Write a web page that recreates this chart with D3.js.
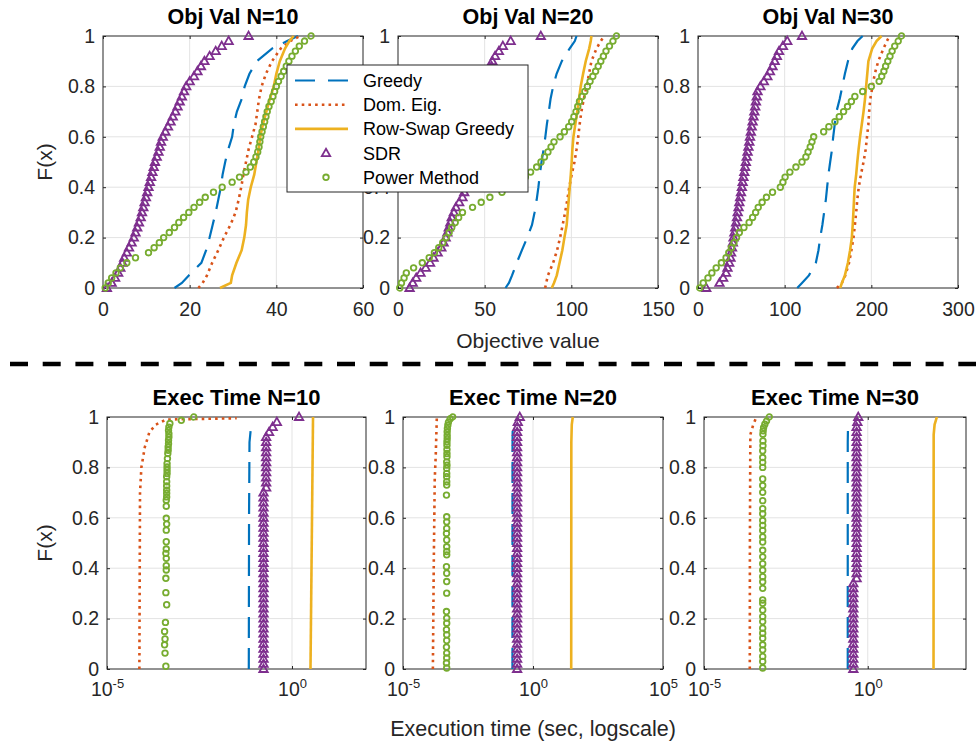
<!DOCTYPE html>
<html>
<head>
<meta charset="utf-8">
<script src="https://cdn.jsdelivr.net/npm/d3@7"></script>
<style>
  body { margin: 0; background: #fff; }
  svg { font-family: "Liberation Sans", Arial, Helvetica, sans-serif; }
</style>
</head>
<body>
<svg id="chart" width="979" height="742"></svg>
<script>

// CDF levels used for the three line methods in the objective-value panels
var lineLevels = [0, 0.02, 0.05, 0.1, 0.15, 0.2, 0.25, 0.3, 0.35, 0.4, 0.45, 0.5, 0.55, 0.6, 0.65, 0.7, 0.75, 0.8, 0.85, 0.9, 0.95, 0.98, 1];

// N = 10
var greedy10 = [16.5, 18.2, 19.8, 22.7, 23.8, 24.6, 25.3, 26, 26.6, 27.2, 27.6, 28.2, 28.9, 29.8, 30.2, 30.9, 32, 32.7, 33.8, 35.5, 39, 42.5, 45];
var domEig10 = [22, 23, 24, 25.2, 26.6, 27.9, 29.4, 30.6, 31.3, 31.9, 32.4, 33, 33.6, 34.4, 35.2, 35.6, 36, 36.6, 37.6, 39, 41, 43.2, 45.5];
var rowSwap10 = [27, 29.5, 29.8, 30.8, 32, 32.6, 33, 33.2, 33.5, 34.1, 34.9, 35.4, 35.9, 36.3, 36.9, 37.7, 38.5, 39.4, 40, 40.8, 42, 43, 44];
var sdr10 = [0.9, 2, 2.8, 3.5, 4, 4.5, 4.9, 5.5, 6, 6.6, 7.1, 7.5, 7.9, 8.3, 8.7, 9, 9.3, 9.6, 9.9, 10.2,
  10.5, 10.8, 11.1, 11.4, 11.7, 12, 12.4, 12.8, 13.1, 13.4, 13.8, 14.4, 15, 15.6, 16.1, 16.7, 17.2, 17.7, 18.2, 18.7,
  19.2, 20, 21, 21.8, 22.6, 23.4, 24.6, 26, 27.4, 29, 33.6];
var power10 = [0.5, 1.2, 2, 3, 4, 5.5, 7.5, 10.5, 11.8, 13, 14, 15.3, 16.5, 17.5, 18.6, 19.8, 21, 22.3, 23.6, 25.5,
  27.5, 29.8, 31.5, 33, 34, 34.8, 35.3, 35.7, 36, 36.2, 36.4, 36.7, 37, 37.3, 37.6, 37.9, 38.3, 38.8, 39.2, 39.6,
  40, 40.5, 41.1, 41.7, 42.3, 42.9, 43.6, 44.4, 45.3, 46.5, 48];

// N = 20
var greedy20 = [62, 64, 65.8, 68.5, 71.5, 74.5, 77.3, 78.8, 80, 81, 81.8, 82.8, 84, 85, 85.9, 87, 88, 89.5, 91.5, 94.5, 99, 102, 103];
var domEig20 = [84.9, 85.5, 86.5, 89.5, 91.8, 93.5, 95, 96.4, 97.7, 98.8, 100.2, 101.8, 103, 104, 104.8, 105.8, 107.2, 108.8, 110.2, 111.6, 114.5, 117, 119];
var rowSwap20 = [88.7, 90, 91.6, 93.2, 94.8, 96, 97.3, 97.9, 98.5, 99.1, 99.7, 100.2, 100.6, 101.2, 102.3, 103.4, 104.4, 105.4, 106.8, 108.3, 110.3, 111.2, 111.6];
var sdr20 = [6.7, 8.5, 10.5, 13, 16, 18.5, 20.5, 22.9, 25, 26.3, 27.5, 28.5, 29.3, 30.2, 31, 32.2, 33.4, 35.3, 37.2, 38.2,
  39, 39.8, 40.6, 41.3, 42, 42.7, 43.4, 44.1, 44.8, 45.5, 46.2, 46.8, 47.4, 48, 48.6, 49.2, 49.8, 50.4, 51, 51.6,
  52.2, 52.7, 53.2, 53.7, 54, 54.4, 56, 58.2, 60.5, 65, 82.4];
var power20 = [1, 2, 3.5, 4.8, 9, 14, 18, 21, 23.5, 25.8, 27.8, 29.5, 31, 33, 35, 37.2, 43, 48, 53, 60,
  65, 70, 73.5, 76.5, 80, 82.5, 84.5, 86.5, 88.3, 90, 93.5, 96, 98.5, 100.2, 101.5, 102.7, 103.7, 104.7, 106.2, 107.8,
  109.3, 110.8, 112.4, 114, 115.5, 117, 118.5, 120, 122, 124, 126];

// N = 30
var greedy30 = [114.5, 120, 128, 136, 139, 141, 143.5, 145.5, 147.5, 149, 150.5, 152.5, 154.6, 156, 157.8, 159.8, 163.5, 166.5, 169.5, 173, 178, 184, 190];
var domEig30 = [160.3, 166, 170, 174.3, 177, 179.4, 181, 182.5, 183.8, 185.5, 188, 191, 193.5, 195, 196.6, 197.5, 198.8, 201.3, 204, 208, 214, 218, 221];
var rowSwap30 = [164, 166, 169.5, 173, 175.5, 177.5, 178.5, 179.3, 180, 180.8, 182.5, 183.8, 185.3, 187, 189, 191, 192.7, 194, 195.3, 196.6, 201, 206, 211.8];
var sdr30 = [9.5, 24.8, 29, 32.4, 34, 36, 37.5, 38.2, 39.2, 40.2, 41, 42, 43, 44, 45, 45.8, 46.8, 47.7, 48.6, 49.6,
  50.6, 51.5, 52.4, 53.4, 54.4, 55.2, 56.2, 57.2, 58.2, 59.2, 60, 61, 62, 63, 64, 65, 66, 66.8, 67.8, 68.7,
  72, 76, 80, 83, 86, 88.5, 91, 93.5, 98, 103, 120];
var power30 = [2, 6, 11.5, 16, 21, 27, 32.4, 35.5, 38.5, 41.5, 44.5, 47.7, 53, 59, 63, 66.5, 69.5, 74, 79, 86,
  95, 98, 100.5, 106, 113, 120, 124.5, 127, 129.5, 131.5, 133.5, 145, 151, 158, 163, 168, 172.5, 177, 181, 190,
  200, 209, 212, 214.5, 216.5, 219, 221.5, 224, 227, 231, 234.7];

// execution times (seconds) with their CDF levels
var timeGreedy10 = [0.068, 0.069, 0.071, 0.079], timeGreedy10F = [0, 0.6, 0.9, 0.97];
var timeDom10 = [7.5e-5, 7.8e-5, 8.5e-5, 1.05e-4, 1.4e-4, 2.1e-4, 4.0e-4, 0.032], timeDom10F = [0, 0.7, 0.8, 0.88, 0.94, 0.97, 0.99, 0.995];
var timeRow10 = [3.16, 3.7], timeRow10F = [0, 1];
var timeSdr10 = [0.17, 0.17, 0.17, 0.17, 0.17, 0.17, 0.17, 0.17, 0.17, 0.17, 0.17, 0.17, 0.17, 0.17, 0.17, 0.17, 0.17, 0.17,
  0.17, 0.17, 0.17, 0.17, 0.17, 0.17, 0.17, 0.17, 0.17, 0.17, 0.17, 0.17, 0.17, 0.17, 0.17, 0.17, 0.17, 0.17,
  0.2, 0.2, 0.2, 0.2, 0.2, 0.2, 0.2, 0.2, 0.2, 0.2, 0.2, 0.24, 0.3, 0.39, 1.55];
var timePow10 = [3.9e-4, 3.7e-4, 3.6e-4, 3.7e-4, 3.6e-4, 3.8e-4, 4.1e-4, 3.9e-4, 3.9e-4, 4.0e-4, 4.0e-4, 4.0e-4, 3.9e-4, 4.0e-4, 4.0e-4,
  4.0e-4, 4.1e-4, 4.0e-4, 4.0e-4, 4.0e-4, 4.1e-4, 4.1e-4, 4.1e-4, 4.1e-4, 4.1e-4, 4.1e-4, 4.2e-4, 4.2e-4, 4.2e-4, 4.2e-4,
  4.3e-4, 4.4e-4, 4.5e-4, 4.5e-4, 4.6e-4, 4.6e-4, 4.7e-4, 4.7e-4, 4.6e-4, 4.7e-4, 5.0e-4, 1.02e-3, 2.2e-3];
var timePow10F = [0.011, 0.063, 0.096, 0.119, 0.149, 0.185, 0.255, 0.303, 0.36, 0.393, 0.41, 0.439, 0.459, 0.476, 0.505,
  0.551, 0.575, 0.598, 0.646, 0.67, 0.683, 0.697, 0.71, 0.726, 0.743, 0.763, 0.776, 0.789, 0.802, 0.815,
  0.835, 0.855, 0.868, 0.881, 0.894, 0.908, 0.921, 0.934, 0.947, 0.96, 0.974, 0.987, 1];

var timeGreedy20 = [0.162, 0.163, 0.166], timeGreedy20F = [0, 0.9, 0.97];
var timeDom20 = [1.41e-4, 1.52e-4, 1.66e-4, 1.82e-4, 2.0e-4], timeDom20F = [0, 0.4, 0.75, 0.85, 1];
var timeRow20 = [29.5, 29.8, 31, 33.9], timeRow20F = [0, 0.9, 0.97, 1];
var timeSdr20 = [0.245, 0.245, 0.245, 0.245, 0.245, 0.245, 0.245, 0.245, 0.245, 0.245, 0.245, 0.245, 0.245, 0.245, 0.245, 0.245, 0.245,
  0.245, 0.245, 0.245, 0.245, 0.245, 0.245, 0.245, 0.245, 0.245, 0.245, 0.245, 0.245, 0.245, 0.245, 0.245, 0.245, 0.245,
  0.245, 0.245, 0.245, 0.245, 0.245, 0.245, 0.245, 0.245, 0.245, 0.245, 0.245, 0.245, 0.245, 0.245, 0.25, 0.26, 0.31];
var timePow20 = [4.8e-4, 4.7e-4, 4.8e-4, 4.8e-4, 4.7e-4, 4.8e-4, 4.8e-4, 4.7e-4, 4.8e-4, 4.8e-4, 4.7e-4, 4.8e-4, 4.8e-4, 4.8e-4, 4.7e-4,
  4.8e-4, 4.8e-4, 4.8e-4, 4.8e-4, 4.7e-4, 4.8e-4, 4.8e-4, 4.8e-4, 4.7e-4, 4.8e-4, 4.8e-4, 4.8e-4, 4.8e-4, 4.8e-4, 4.9e-4,
  4.8e-4, 4.9e-4, 4.9e-4, 4.9e-4, 4.9e-4, 4.9e-4, 5.0e-4, 5.0e-4, 5.0e-4, 5.1e-4, 5.3e-4, 5.6e-4, 6.5e-4, 8.1e-4];
var timePow20F = [0.004, 0.024, 0.044, 0.063, 0.087, 0.113, 0.136, 0.156, 0.182, 0.202, 0.228, 0.301, 0.347, 0.38, 0.406,
  0.453, 0.466, 0.485, 0.512, 0.538, 0.558, 0.584, 0.604, 0.69, 0.73, 0.743, 0.763, 0.776, 0.796, 0.809,
  0.822, 0.842, 0.855, 0.871, 0.888, 0.901, 0.914, 0.927, 0.941, 0.954, 0.967, 0.98, 0.993, 1];

var timeGreedy30 = [0.245, 0.245, 0.25], timeGreedy30F = [0, 0.9, 0.97];
var timeDom30 = [2.5e-4, 2.52e-4, 2.6e-4, 3.2e-4, 4.0e-4], timeDom30F = [0, 0.5, 0.93, 0.97, 1];
var timeRow30 = [102, 103, 110, 129], timeRow30F = [0, 0.93, 0.97, 1];
var timeSdr30 = [0.363, 0.363, 0.363, 0.363, 0.363, 0.363, 0.363, 0.363, 0.363, 0.363, 0.363, 0.363, 0.363, 0.363, 0.363, 0.363, 0.363, 0.363,
  0.457, 0.457, 0.457, 0.457, 0.457, 0.457, 0.457, 0.457, 0.457, 0.457, 0.457, 0.457, 0.457, 0.457, 0.457, 0.457,
  0.457, 0.457, 0.457, 0.457, 0.457, 0.457, 0.457, 0.457, 0.457, 0.457, 0.457, 0.457, 0.457, 0.457, 0.457, 0.48, 0.513];
var timePow30 = [6.2e-4, 6.2e-4, 6.2e-4, 6.2e-4, 6.2e-4, 6.2e-4, 6.2e-4, 6.2e-4, 6.2e-4, 6.2e-4, 6.2e-4, 6.2e-4, 6.2e-4, 6.2e-4, 6.2e-4,
  6.2e-4, 6.2e-4, 6.2e-4, 6.2e-4, 6.2e-4, 6.2e-4, 6.2e-4, 6.2e-4, 6.2e-4, 6.2e-4, 6.2e-4, 6.2e-4, 6.2e-4, 6.2e-4, 6.2e-4,
  6.2e-4, 6.2e-4, 6.2e-4, 6.2e-4, 6.2e-4, 6.3e-4, 6.3e-4, 6.3e-4, 6.4e-4, 6.6e-4, 7.2e-4, 8.1e-4, 9.8e-4];
var timePow30F = [0.004, 0.03, 0.05, 0.076, 0.096, 0.122, 0.142, 0.162, 0.188, 0.208, 0.234, 0.261, 0.274, 0.32, 0.346,
  0.366, 0.392, 0.418, 0.445, 0.471, 0.504, 0.524, 0.55, 0.57, 0.589, 0.616, 0.636, 0.668, 0.701, 0.728,
  0.754, 0.8, 0.82, 0.839, 0.866, 0.886, 0.905, 0.932, 0.945, 0.958, 0.971, 0.984, 1];

// ticks / labels
var yTicks = [0, 0.2, 0.4, 0.6, 0.8, 1];
var objTicks10 = [0, 20, 40, 60], objTicks20 = [0, 50, 100, 150], objTicks30 = [0, 100, 200, 300];
var timeTicks = [1e-5, 1e0, 1e5];
var objTitles = ["Obj Val N=10", "Obj Val N=20", "Obj Val N=30"];
var timeTitles = ["Exec Time N=10", "Exec Time N=20", "Exec Time N=30"];
var legendNames = ["Greedy", "Dom. Eig.", "Row-Swap Greedy", "SDR", "Power Method"];

// ---------- drawing ----------
var colGreedy = "#0072BD", colDom = "#D95319", colRow = "#EDB120", colSdr = "#7E2F8E", colPow = "#77AC30";
var axisCol = "#262626";
var svg = d3.select("#chart");

var objPanels = [
  {title: objTitles[0], left: 103, right: 363, xmax: 60, ticks: objTicks10, g: greedy10, d: domEig10, r: rowSwap10, s: sdr10, p: power10},
  {title: objTitles[1], left: 398, right: 658, xmax: 150, ticks: objTicks20, g: greedy20, d: domEig20, r: rowSwap20, s: sdr20, p: power20},
  {title: objTitles[2], left: 698, right: 958, xmax: 300, ticks: objTicks30, g: greedy30, d: domEig30, r: rowSwap30, s: sdr30, p: power30}
];
var timePanels = [
  {title: timeTitles[0], left: 107, right: 366, xmax: 1e2,
   g: [timeGreedy10, timeGreedy10F], d: [timeDom10, timeDom10F], r: [timeRow10, timeRow10F], s: timeSdr10, p: [timePow10, timePow10F]},
  {title: timeTitles[1], left: 403, right: 663, xmax: 1e5,
   g: [timeGreedy20, timeGreedy20F], d: [timeDom20, timeDom20F], r: [timeRow20, timeRow20F], s: timeSdr20, p: [timePow20, timePow20F]},
  {title: timeTitles[2], left: 704, right: 966, xmax: 1e3,
   g: [timeGreedy30, timeGreedy30F], d: [timeDom30, timeDom30F], r: [timeRow30, timeRow30F], s: timeSdr30, p: [timePow30, timePow30F]}
];

var triPath = "M0,-4.4L4.2,3L-4.2,3Z";
var markerWidth = 1.8;

function ecdfLevels(n) {
  return d3.range(n).map(function(i) { return i / (n - 1); });
}

function styleAxis(sel, size) {
  sel.select(".domain").remove();
  sel.selectAll(".tick line").attr("stroke", axisCol);
  sel.selectAll(".tick text").attr("fill", axisCol).attr("font-size", size).attr("font-family", null);
}

//Grid, box, inward ticks on all four sides and tick labels
function drawFrame(g, x, y, xTicks, isLog) {
  var w = x.range()[1], h = y.range()[0];

  g.append("g").selectAll("line")
    .data(xTicks.filter(function(t) { var px = x(t); return px > 1 && px < w - 1; }))
    .enter().append("line")
    .attr("x1", function(d) { return x(d); }).attr("x2", function(d) { return x(d); })
    .attr("y1", 0).attr("y2", h)
    .attr("stroke", "#e3e3e3");
  g.append("g").selectAll("line")
    .data(yTicks.slice(1, -1))
    .enter().append("line")
    .attr("x1", 0).attr("x2", w)
    .attr("y1", function(d) { return y(d); }).attr("y2", function(d) { return y(d); })
    .attr("stroke", "#e3e3e3");

  g.append("rect").attr("width", w).attr("height", h)
    .attr("fill", "none").attr("stroke", axisCol).attr("stroke-width", 1);

  var bottom = g.append("g").attr("transform", "translate(0," + h + ")")
    .call(d3.axisBottom(x).tickValues(xTicks).tickSize(-3).tickPadding(isLog ? 13 : 14)
      .tickFormat(isLog ? function() { return ""; } : d3.format("d")));
  styleAxis(bottom, "19.5px");
  if (isLog) {
    bottom.selectAll(".tick text").each(function(d) {
      var t = d3.select(this);
      t.append("tspan").text("10");
      t.append("tspan").attr("dy", "-0.6em").attr("font-size", "13px").text(Math.round(Math.log10(d)));
    });
  }
  styleAxis(g.append("g").call(d3.axisTop(x).tickValues(xTicks).tickSize(-3).tickFormat("")), "0");

  var left = g.append("g")
    .call(d3.axisLeft(y).tickValues(yTicks).tickSize(-3).tickPadding(8)
      .tickFormat(function(d) { return String(+d.toFixed(1)); }));
  styleAxis(left, "19.5px");
  styleAxis(g.append("g").attr("transform", "translate(" + w + ",0)")
    .call(d3.axisRight(y).tickValues(yTicks).tickSize(-3).tickFormat("")), "0");
}

function drawSeries(g, x, y, pts, color, width, dash) {
  g.append("path").datum(pts)
    .attr("d", d3.line().x(function(d) { return x(d[0]); }).y(function(d) { return y(d[1]); }))
    .attr("fill", "none").attr("stroke", color).attr("stroke-width", width)
    .attr("stroke-dasharray", dash);
}

function drawMarkers(g, x, y, pts, kind) {
  var sel = g.append("g").selectAll("path").data(pts).enter();
  if (kind === "tri") {
    sel.append("path").attr("d", triPath)
      .attr("transform", function(d) { return "translate(" + x(d[0]) + "," + y(d[1]) + ")"; })
      .attr("fill", "none").attr("stroke", colSdr).attr("stroke-width", markerWidth);
  } else {
    sel.append("circle").attr("r", 2.8)
      .attr("cx", function(d) { return x(d[0]); }).attr("cy", function(d) { return y(d[1]); })
      .attr("fill", "none").attr("stroke", colPow).attr("stroke-width", markerWidth);
  }
}

function zip(xs, fs) {
  return xs.map(function(v, i) { return [v, fs[i]]; });
}

// top row: objective value
objPanels.forEach(function(p) {
  var w = p.right - p.left, top = 36, h = 252;
  var g = svg.append("g").attr("transform", "translate(" + p.left + "," + top + ")");
  var x = d3.scaleLinear().domain([0, p.xmax]).range([0, w]);
  var y = d3.scaleLinear().domain([0, 1]).range([h, 0]);
  drawFrame(g, x, y, p.ticks, false);

  drawSeries(g, x, y, zip(p.g, lineLevels), colGreedy, 2.2, "20,11");
  drawSeries(g, x, y, zip(p.d, lineLevels), colDom, 2.6, "2.6,4.1");
  drawSeries(g, x, y, zip(p.r, lineLevels), colRow, 2.6, null);
  drawMarkers(g, x, y, zip(p.s, ecdfLevels(p.s.length)), "tri");
  drawMarkers(g, x, y, zip(p.p, ecdfLevels(p.p.length)), "circ");

  svg.append("text").attr("x", p.left + w / 2).attr("y", 24)
    .attr("text-anchor", "middle").attr("font-size", "21.5px").attr("font-weight", "bold")
    .attr("fill", "#000").text(p.title);
});

// bottom row: execution time
timePanels.forEach(function(p) {
  var w = p.right - p.left, top = 417, h = 252;
  var g = svg.append("g").attr("transform", "translate(" + p.left + "," + top + ")");
  var x = d3.scaleLog().domain([1e-5, p.xmax]).range([0, w]);
  var y = d3.scaleLinear().domain([0, 1]).range([h, 0]);
  drawFrame(g, x, y, timeTicks.filter(function(t) { return t <= p.xmax; }), true);

  drawSeries(g, x, y, zip(p.g[0], p.g[1]), colGreedy, 2.2, "21,10");
  drawSeries(g, x, y, zip(p.d[0], p.d[1]), colDom, 2.6, "2.6,4.1");
  drawSeries(g, x, y, zip(p.r[0], p.r[1]), colRow, 2.6, null);
  drawMarkers(g, x, y, zip(p.s, ecdfLevels(p.s.length)), "tri");
  drawMarkers(g, x, y, zip(p.p[0], p.p[1]), "circ");

  svg.append("text").attr("x", p.left + w / 2).attr("y", 405)
    .attr("text-anchor", "middle").attr("font-size", "22px").attr("font-weight", "bold")
    .attr("fill", "#000").text(p.title);
});

// axis labels
svg.append("text").attr("x", 528).attr("y", 348).attr("text-anchor", "middle")
  .attr("font-size", "21px").attr("fill", axisCol).text("Objective value");
svg.append("text").attr("x", 533).attr("y", 736).attr("text-anchor", "middle")
  .attr("font-size", "21.5px").attr("fill", axisCol).text("Execution time (sec, logscale)");
[162, 543].forEach(function(cy) {
  svg.append("text").attr("transform", "translate(52," + cy + ") rotate(-90)")
    .attr("text-anchor", "middle").attr("font-size", "21px").attr("fill", axisCol).text("F(x)");
});

// separator between the two rows
svg.append("line").attr("x1", 10).attr("x2", 976).attr("y1", 364).attr("y2", 364)
  .attr("stroke", "#000").attr("stroke-width", 4.5).attr("stroke-dasharray", "18,14.7");

// legend
var lg = svg.append("g").attr("transform", "translate(287,65)");
lg.append("rect").attr("width", 241).attr("height", 127)
  .attr("fill", "#fff").attr("stroke", axisCol).attr("stroke-width", 1);
var legendStyle = [
  {color: colGreedy, dash: "20,13", width: 2.2},
  {color: colDom, dash: "2.6,4.1", width: 2.6},
  {color: colRow, dash: null, width: 2.6},
  {marker: "tri"},
  {marker: "circ"}
];
legendNames.forEach(function(name, i) {
  var cy = 15.5 + i * 24.2, st = legendStyle[i];
  if (st.marker === "tri") {
    lg.append("path").attr("d", triPath).attr("transform", "translate(39," + cy + ")")
      .attr("fill", "none").attr("stroke", colSdr).attr("stroke-width", markerWidth);
  } else if (st.marker === "circ") {
    lg.append("circle").attr("cx", 39).attr("cy", cy).attr("r", 2.8)
      .attr("fill", "none").attr("stroke", colPow).attr("stroke-width", markerWidth);
  } else {
    lg.append("line").attr("x1", 8).attr("x2", 61).attr("y1", cy).attr("y2", cy)
      .attr("stroke", st.color).attr("stroke-width", st.width).attr("stroke-dasharray", st.dash);
  }
  lg.append("text").attr("x", 76).attr("y", cy + 6.5).attr("font-size", "18px")
    .attr("fill", "#000").text(name);
});
</script>
</body>
</html>
